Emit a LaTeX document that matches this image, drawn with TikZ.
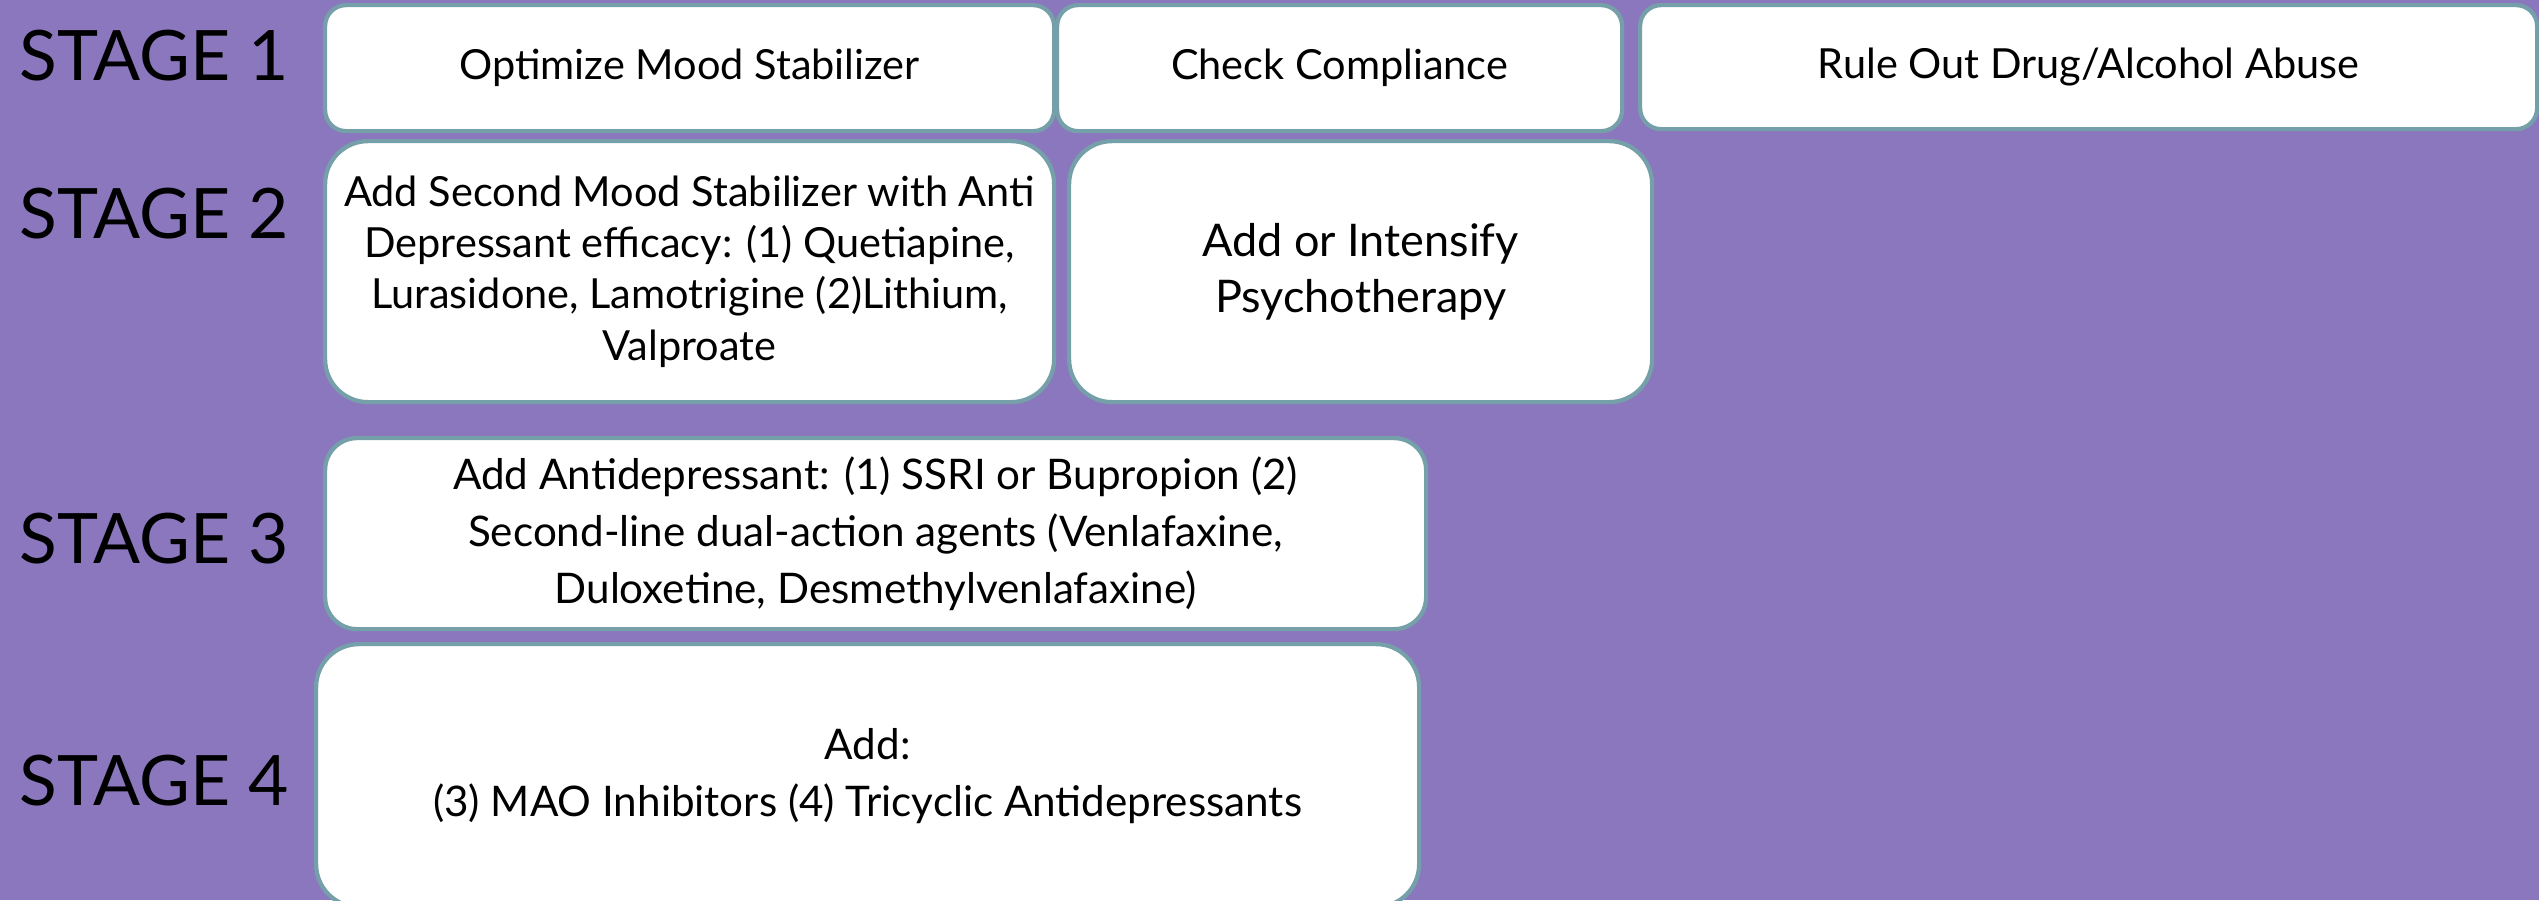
\documentclass[tikz,border=0pt]{standalone}
\usepackage{fontspec}
\setmainfont{Lato}
\usetikzlibrary{positioning}
\definecolor{bgpurple}{HTML}{8B77BD}
\definecolor{edgeteal}{HTML}{75A0AA}
\tikzset{
    cell/.style = {rectangle, draw=edgeteal, line width=1.2pt, fill=white, align=center, inner sep=0pt, anchor=north west, font=\fontsize{11.8}{14.6}\selectfont},
    cellw/.style = {cell, font=\fontsize{12}{16.2}\selectfont},
    stagelab/.style = {anchor=base west, inner sep=0pt, font=\fontsize{19.8}{24}\selectfont}
}
\begin{document}
\begin{tikzpicture}[x=1cm,y=1cm]
  \useasboundingbox (0,0) rectangle (25.39,-9);
  \fill[bgpurple] (0,0) rectangle (25.39,-9);
  \clip (0,0) rectangle (25.39,-9);

  % stage labels
  \node[stagelab] (st1) at (0.19,-0.80) {STAGE 1};
  \node[stagelab] (st2) at (0.19,-2.38) {STAGE 2};
  \node[stagelab] (st3) at (0.19,-5.63) {STAGE 3};
  \node[stagelab] (st4) at (0.19,-8.05) {STAGE 4};

  % stage 1
  \node[cell, rounded corners=0.21cm, minimum width=7.29cm, minimum height=1.26cm] (opt) at (3.23,-0.03) {\raisebox{-2pt}{Optimize Mood Stabilizer}};
  \node[cell, rounded corners=0.21cm, minimum width=5.65cm, minimum height=1.26cm] (chk) at (10.55,-0.03) {\raisebox{-2pt}{Check Compliance}};
  \node[cell, rounded corners=0.21cm, minimum width=8.97cm, minimum height=1.24cm] (rule) at (16.38,-0.03) {\raisebox{-1pt}{Rule Out Drug/Alcohol Abuse}};

  % stage 2
  \node[cell, rounded corners=0.43cm, minimum width=7.29cm, minimum height=2.61cm] (sec) at (3.23,-1.39)
    {Add Second Mood Stabilizer with Anti\\Depressant efficacy: (1) Quetiapine,\\Lurasidone, Lamotrigine (2)Lithium,\\Valproate};
  \node[cell, rounded corners=0.43cm, minimum width=5.83cm, minimum height=2.61cm, font=\fontsize{12.8}{15.8}\selectfont] (psy) at (10.67,-1.39)
    {Add or Intensify\\Psychotherapy};

  % stage 3
  \node[cellw, rounded corners=0.32cm, minimum width=11.01cm, minimum height=1.91cm] (ad) at (3.23,-4.36)
    {Add Antidepressant: (1) SSRI or Bupropion (2)\\Second-line dual-action agents (Venlafaxine,\\Duloxetine, Desmethylvenlafaxine)};

  % stage 4
  \node[cellw, rounded corners=0.43cm, minimum width=11.03cm, minimum height=2.63cm] (mao) at (3.14,-6.42)
    {Add:\\(3) MAO Inhibitors (4) Tricyclic Antidepressants};
\end{tikzpicture}
\end{document}
